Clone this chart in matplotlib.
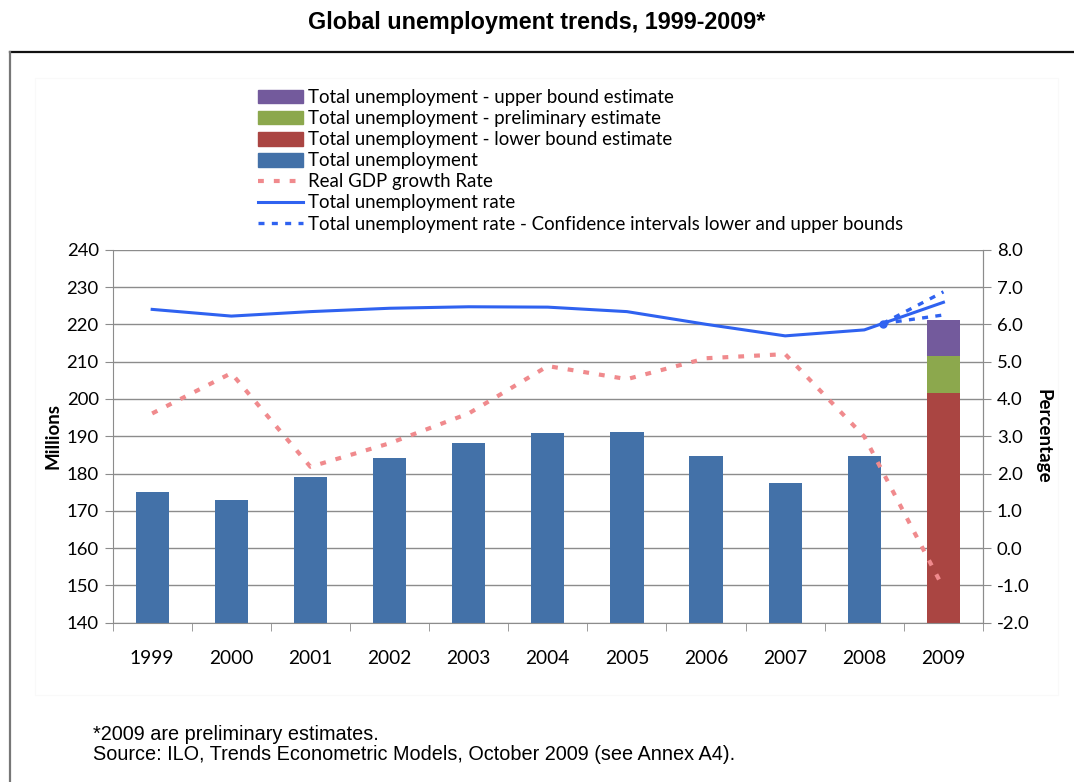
import matplotlib
matplotlib.use('Agg')
import matplotlib.pyplot as plt
import numpy as np
from matplotlib.patches import Patch, Rectangle
from matplotlib.lines import Line2D
from matplotlib.ticker import FormatStrFormatter, FixedLocator

# data
years = ['1999', '2000', '2001', '2002', '2003', '2004', '2005', '2006', '2007', '2008', '2009']
total_unemp = [175.0, 173.0, 179.0, 184.1, 188.3, 190.8, 191.1, 184.8, 177.5, 184.8]   # 1999-2008, millions
unemp_2009_lower = 201.5
unemp_2009_prelim = 211.4
unemp_2009_upper = 221.2
gdp_growth = [3.61, 4.69, 2.18, 2.81, 3.61, 4.88, 4.53, 5.09, 5.20, 2.99, -1.07]       # percent
unemp_rate = [6.40, 6.22, 6.34, 6.43, 6.47, 6.46, 6.34, 6.00, 5.69, 5.85, 6.59]        # percent
ci_x = [9.23, 10]          # category positions (2008 -> 2009)
ci_lower = [6.02, 6.25]
ci_upper = [6.02, 6.87]

BLUE = '#4371a8'
RED = '#aa4542'
GREEN = '#8ca84d'
PURPLE = '#735a9c'
PINK = '#f08a8d'
LINE_BLUE = '#2f62f0'
GRID = '#8c8c8c'

plt.rcParams['font.family'] = ['Lato', 'DejaVu Sans']

fig = plt.figure(figsize=(10.74, 7.82), dpi=100)
W, H = 1074, 782

# outer frame and faint chart area
fig.add_artist(Line2D([10 / W, 1.0], [1 - 52 / H, 1 - 52 / H], color='#111111', lw=1.6))
fig.add_artist(Line2D([10 / W, 10 / W], [0, 1 - 52 / H], color='#777777', lw=1.6))
fig.add_artist(Rectangle((35 / W, 1 - 695 / H), (1058 - 35) / W, (695 - 78) / H,
                         fill=False, edgecolor='#f9f9f9', lw=0.8))

fig.text(0.5, 1 - 22 / H, 'Global unemployment trends, 1999-2009*', ha='center', va='center',
         fontsize=16.8, fontweight='bold', family='Liberation Sans')

ax = fig.add_axes([112.6 / W, 1 - 622.7 / H, (983 - 112.6) / W, (622.7 - 249.7) / H])
x = np.arange(len(years))
bw = 0.42

ax.bar(x[:10], total_unemp, width=bw, color=BLUE, zorder=2)
ax.bar(x[10], unemp_2009_lower, width=bw, color=RED, zorder=2)
ax.bar(x[10], unemp_2009_prelim - unemp_2009_lower, bottom=unemp_2009_lower, width=bw, color=GREEN, zorder=2)
ax.bar(x[10], unemp_2009_upper - unemp_2009_prelim, bottom=unemp_2009_prelim, width=bw, color=PURPLE, zorder=2)

ax.set_ylim(140, 240)
ax.set_xlim(-0.5, len(years) - 0.5)
ax.set_yticks(np.arange(140, 241, 10))
ax.yaxis.grid(True, color=GRID, lw=1.0)
ax.set_axisbelow(True)
ax.set_xticks(x)
ax.set_xticklabels(years)
ax.xaxis.set_minor_locator(FixedLocator(np.arange(-0.5, len(years), 1)))
ax.tick_params(axis='x', which='major', length=0, pad=20, labelsize=13.8)
ax.tick_params(axis='x', which='minor', length=6, color=GRID, direction='out')
ax.tick_params(axis='y', length=6, color=GRID, labelsize=13.3, pad=4)
ax.spines['top'].set_visible(False)
for s in ['left', 'right', 'bottom']:
    ax.spines[s].set_color(GRID)
ax.set_ylabel('Millions', fontsize=13.5, fontweight='bold', labelpad=4)

ax2 = ax.twinx()
ax2.set_ylim(-2, 8)
ax2.set_yticks(np.arange(-2, 8.1, 1))
ax2.yaxis.set_major_formatter(FormatStrFormatter('%.1f'))
ax2.tick_params(axis='y', length=6, color=GRID, labelsize=13.3, pad=4)
for s in ['top', 'left', 'bottom']:
    ax2.spines[s].set_visible(False)
ax2.spines['right'].set_color(GRID)
ax2.set_ylabel('Percentage', fontsize=13.5, fontweight='bold', rotation=270, labelpad=16)

ax2.plot(x, gdp_growth, color=PINK, lw=3, linestyle=(0, (1.4, 2.4)), zorder=3)
ax2.plot(x, unemp_rate, color=LINE_BLUE, lw=2.2, zorder=4)
ax2.plot(ci_x, ci_lower, color=LINE_BLUE, lw=2.4, linestyle=(0, (1.8, 2.2)), zorder=4)
ax2.plot(ci_x, ci_upper, color=LINE_BLUE, lw=2.4, linestyle=(0, (1.8, 2.2)), zorder=4)
ax2.plot(ci_x[0], ci_lower[0], 'o', color=LINE_BLUE, ms=5, zorder=5)

handles = [
    Patch(color=PURPLE), Patch(color=GREEN), Patch(color=RED), Patch(color=BLUE),
    Line2D([], [], color=PINK, lw=3, linestyle=(0, (1.4, 2.4))),
    Line2D([], [], color=LINE_BLUE, lw=2.2),
    Line2D([], [], color=LINE_BLUE, lw=2.4, linestyle=(0, (1.8, 2.2))),
]
labels = [
    'Total unemployment - upper bound estimate',
    'Total unemployment - preliminary estimate',
    'Total unemployment - lower bound estimate',
    'Total unemployment',
    'Real GDP growth Rate',
    'Total unemployment rate',
    'Total unemployment rate - Confidence intervals lower and upper bounds',
]
fig.legend(handles, labels, loc='upper left', bbox_to_anchor=(258 / W, 1 - 89 / H),
           frameon=False, fontsize=13.4, borderpad=0, borderaxespad=0,
           handlelength=2.4, handleheight=0.75, handletextpad=0.27, labelspacing=0.22)

fig.text(93 / W, 1 - 734 / H, '*2009 are preliminary estimates.', fontsize=14.3,
         family='Liberation Sans', va='center')
fig.text(93 / W, 1 - 755 / H, 'Source: ILO, Trends Econometric Models, October 2009 (see Annex A4).',
         fontsize=14.3, family='Liberation Sans', va='center')

fig.savefig('out.png', dpi=100)
